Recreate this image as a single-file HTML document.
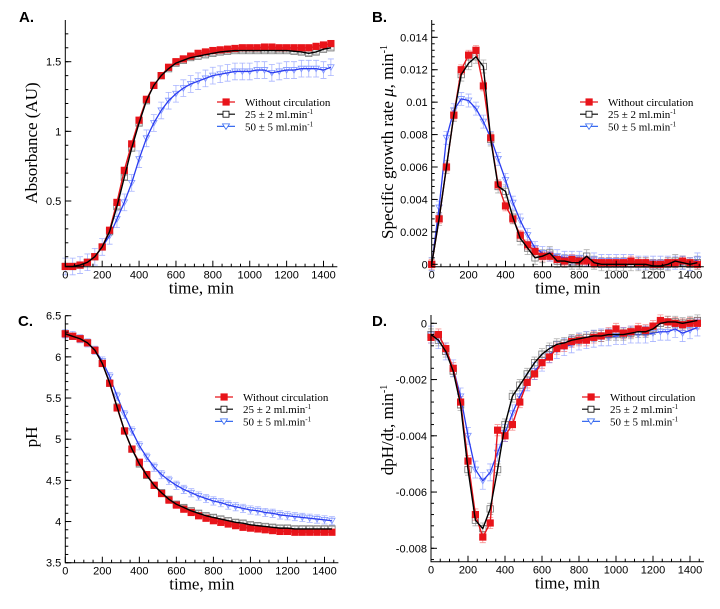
<!DOCTYPE html>
<html><head><meta charset="utf-8"><style>
body{margin:0;background:#fff;width:720px;height:604px;overflow:hidden}
svg text{font-family:"Liberation Sans",sans-serif}
.serif{font-family:"Liberation Serif",serif}
</style></head><body>
<svg id="fig" width="720" height="604" xmlns="http://www.w3.org/2000/svg"></svg>
<script>
const times=[0,40,80,120,160,200,240,280,320,360,400,440,480,520,560,600,640,680,720,760,800,840,880,920,960,1000,1040,1080,1120,1160,1200,1240,1280,1320,1360,1400,1440];
const aRed=[0.03,0.03,0.04,0.06,0.1,0.17,0.29,0.49,0.72,0.91,1.08,1.23,1.33,1.40,1.46,1.50,1.52,1.54,1.56,1.57,1.58,1.585,1.59,1.595,1.60,1.60,1.60,1.605,1.605,1.60,1.60,1.60,1.60,1.60,1.61,1.62,1.63];
const aBlack=[0.03,0.03,0.04,0.06,0.1,0.17,0.28,0.46,0.67,0.88,1.06,1.22,1.33,1.40,1.45,1.49,1.51,1.53,1.54,1.55,1.56,1.57,1.575,1.58,1.58,1.58,1.58,1.58,1.58,1.58,1.58,1.575,1.57,1.56,1.57,1.59,1.60];
const aBlue=[0.03,0.03,0.04,0.06,0.1,0.17,0.25,0.37,0.49,0.63,0.80,0.95,1.06,1.15,1.22,1.27,1.31,1.34,1.36,1.38,1.40,1.41,1.42,1.43,1.43,1.43,1.44,1.44,1.42,1.43,1.44,1.44,1.45,1.45,1.45,1.44,1.46];
const bRed=[0,0.0028,0.006,0.0092,0.012,0.0129,0.0132,0.011,0.0078,0.0049,0.0036,0.0028,0.0018,0.0012,0.0008,0.0005,0.0005,0.0003,0.0002,0.0003,0.0002,0.0002,0.0001,0.0001,0.0001,0.0001,0.0001,0.0002,0.0001,0.0001,0,0,0.0001,0.0001,0.0002,0.0001,0];
const bBlack=[0,0.0028,0.006,0.0092,0.0117,0.0124,0.0128,0.0122,0.0077,0.0048,0.0045,0.0029,0.0016,0.001,0.0004,0.0005,0.0007,0.0002,0.0002,0.0001,0.0001,0.0005,0.0001,0,0,0,0,0,0,0,-0.0001,-0.0001,0,0.0002,0.0001,0,0.0001];
const bBlue=[0,0.0035,0.0078,0.0095,0.0102,0.0101,0.0096,0.0088,0.0078,0.0065,0.0052,0.0038,0.0027,0.0018,0.001,0.0007,0.0006,0.0005,0.0004,0.0004,0.0004,0.0003,0.0003,0.0002,0.0002,0.0002,0.0002,0.0002,0.0001,0.0001,0.0001,0.0001,0.0001,0.0001,0.0001,0,0.0003];
const cRed=[6.28,6.25,6.22,6.17,6.08,5.92,5.68,5.38,5.10,4.88,4.72,4.57,4.44,4.34,4.26,4.20,4.15,4.11,4.07,4.04,4.01,3.99,3.97,3.95,3.93,3.92,3.91,3.90,3.89,3.88,3.88,3.87,3.87,3.87,3.87,3.87,3.87];
const cBlack=[6.28,6.25,6.22,6.17,6.08,5.92,5.68,5.39,5.10,4.88,4.70,4.56,4.44,4.35,4.27,4.21,4.17,4.13,4.10,4.07,4.05,4.03,4.01,3.99,3.98,3.96,3.95,3.94,3.93,3.92,3.92,3.91,3.91,3.91,3.91,3.91,3.91];
const cBlue=[6.28,6.26,6.22,6.17,6.08,5.95,5.76,5.52,5.30,5.10,4.92,4.78,4.66,4.57,4.50,4.44,4.39,4.35,4.31,4.28,4.25,4.23,4.20,4.18,4.16,4.14,4.13,4.11,4.10,4.08,4.07,4.06,4.05,4.04,4.03,4.02,4.01];
const dRed=[-0.0005,-0.0004,-0.0009,-0.0016,-0.0028,-0.0049,-0.0068,-0.0076,-0.0071,-0.0038,-0.004,-0.0036,-0.0028,-0.0021,-0.0018,-0.0014,-0.0012,-0.0009,-0.0008,-0.00065,-0.0006,-0.0006,-0.0005,-0.00045,-0.00035,-0.0002,-0.00035,-0.0003,-0.0002,-0.00025,-0.0001,0.0001,0.00005,0,-0.00005,0,0];
const dBlack=[-0.0004,-0.0006,-0.001,-0.0017,-0.0029,-0.0052,-0.007,-0.0073,-0.0066,-0.0052,-0.0036,-0.0026,-0.0022,-0.0018,-0.0014,-0.0011,-0.0009,-0.00075,-0.0007,-0.0006,-0.00055,-0.0005,-0.00045,-0.00045,-0.0004,-0.0004,-0.0004,-0.00035,-0.0003,-0.0003,-0.0002,0,0.00005,0.00005,0,0.00005,0.0001];
const dBlue=[-0.0004,-0.0006,-0.001,-0.0016,-0.0026,-0.004,-0.0052,-0.0056,-0.0053,-0.0046,-0.0039,-0.0032,-0.0026,-0.0021,-0.0017,-0.0014,-0.0011,-0.00095,-0.00085,-0.00075,-0.00065,-0.0006,-0.00055,-0.0005,-0.0005,-0.00045,-0.00045,-0.0004,-0.0004,-0.0004,-0.00035,-0.0003,-0.0003,-0.0002,-0.00035,-0.00025,-0.00015];
const xTicks=[0,200,400,600,800,1000,1200,1400];
const aTicks=[0.5,1,1.5];
const aTickLabels=["0.5","1","1.5"];
const bTicks=[0,0.002,0.004,0.006,0.008,0.01,0.012,0.014];
const bTickLabels=["0","0.002","0.004","0.006","0.008","0.01","0.012","0.014"];
const cTicks=[3.5,4,4.5,5,5.5,6,6.5];
const cTickLabels=["3.5","4","4.5","5","5.5","6","6.5"];
const dTicks=[0,-0.002,-0.004,-0.006,-0.008];
const dTickLabels=["0","-0.002","-0.004","-0.006","-0.008"];
const aErr=[0.01,0.015,0.06];
const bErr=[0.0003,0.0004,0.0004];
const cErr=[0.02,0.03,0.05];
const dErr=[0.0002,0.0002,0.0003];
const legendLabels=["Without circulation","25 ± 2 ml.min","50 ± 5 ml.min"];

const NS="http://www.w3.org/2000/svg";
const fig=document.getElementById('fig');
function mk(tag,attrs,parent){const e=document.createElementNS(NS,tag);for(const k in attrs)e.setAttribute(k,attrs[k]);(parent||fig).appendChild(e);return e;}

function panel(o){
  const g=mk('g',{});
  
  
  const X=t=>o.x0+(t/1400)*(o.x1400-o.x0);
  const Y=v=>o.py0+(v-o.v0)/(o.v1-o.v0)*(o.py1-o.py0);
  const right=X(1475);
  const cols=["rgba(240,60,60,0.55)","rgba(120,120,120,0.6)","rgba(110,130,255,0.6)"];
  [o.red,o.black,o.blue].forEach((s,si)=>{
    const eb=mk('g',{stroke:cols[si],'stroke-width':0.8,fill:'none'},g);
    
    
    s.forEach((v,i)=>{const x=X(times[i]),e=o.err[si];const y1=Y(v-e),y2=Y(v+e);
      mk('path',{d:`M${x},${y1}V${y2}M${x-3},${y1}H${x+3}M${x-3},${y2}H${x+3}`},eb);});
  });
  const line=(s,col,w)=>{const p=mk('polyline',{points:s.map((v,i)=>X(times[i])+','+Y(v)).join(' '),fill:'none',stroke:col,'stroke-width':w,'stroke-linejoin':'round'},g);return p;};
  o.blue.forEach((v,i)=>{const x=X(times[i]),y=Y(v);
    const t=mk('path',{d:`M${x-3.2},${y-2.5}H${x+3.2}L${x},${y+3}Z`,fill:'none',stroke:'#7f95ff','stroke-width':0.8},g);
    
    });
  const lb=line(o.blue,'#2a3cf0',1.3);
  
  
  o.black.forEach((v,i)=>{const x=X(times[i]),y=Y(v);
    const r=mk('rect',{x:x-3.2,y:y-3.2,width:6.4,height:6.4,fill:'none',stroke:'#777','stroke-width':0.8},g);
    
    });
  o.red.forEach((v,i)=>{const x=X(times[i]),y=Y(v);
    const r=mk('rect',{x:x-3.6,y:y-3.6,width:7.2,height:7.2,fill:'#e8141a'},g);
    
    });
  const lr=line(o.red,'#e8141a',1.4);
  
  
  const lk=line(o.black,'#000',1.4);
  
  
  const ax=mk('g',{stroke:'#000','stroke-width':1,fill:'none'},g);
  
  
  mk('path',{d:`M${o.x0},${o.top}V${o.bot}H${right}`},ax);
  for(let t=0;t<=1450;t+=50){const x=X(t);const major=t%200===0;mk('path',{d:`M${x},${o.bot}V${o.bot-(major?6:3)}`},ax);}
  o.ticks.forEach((v,i)=>{const y=Y(v);mk('path',{d:`M${o.x0},${y}H${o.x0+6}`},ax);
    const tx=mk('text',{x:o.x0-4,y:y+4,'text-anchor':'end','font-size':11},g);tx.textContent=o.tickLabels[i];
    
    });
  const step=(o.ticks[1]-o.ticks[0])/5;
  const lo=Math.min(o.v0,o.v1),hi=Math.max(o.v0,o.v1);
  for(let k=-60;k<=60;k++){const v=o.ticks[0]+k*step;const y=Y(v);if(y<o.top||y>o.bot)continue;mk('path',{d:`M${o.x0},${y}H${o.x0+3}`},ax);}
  xTicks.forEach(t=>{const tx=mk('text',{x:X(t),y:o.bot+12,'text-anchor':'middle','font-size':11},g);tx.textContent=t;
    
    });
  const xt=mk('text',{x:(o.x0+right)/2,y:o.bot+27,'text-anchor':'middle','font-size':17,class:'serif'},g);xt.textContent='time, min';
  
  
  const yt=mk('text',{x:0,y:0,'text-anchor':'middle','font-size':17,class:'serif',transform:`translate(${o.ytx},${o.yty}) rotate(-90)`},g);
  yt.innerHTML=o.ytitle;
  
  
  const pl=mk('text',{x:o.lx,y:o.ly,'font-size':15,'font-weight':'bold'},g);pl.textContent=o.label;
  
  
  const lg=mk('g',{},g);
  
  
  const lcols=['#e8141a','#000','#3a6cf0'];
  legendLabels.forEach((lab,i)=>{const y=o.legY+i*12.2,x=o.legX;
    const ent=mk('g',{},lg);
    
    
    mk('line',{x1:x,y1:y,x2:x+18,y2:y,stroke:lcols[i],'stroke-width':1.2},ent);
    if(i===0)mk('rect',{x:x+5.5,y:y-3.6,width:7.2,height:7.2,fill:'#e8141a'},ent);
    if(i===1)mk('rect',{x:x+6,y:y-3,width:6,height:6,fill:'#fff',stroke:'#000','stroke-width':0.8},ent);
    if(i===2)mk('path',{d:`M${x+5.5},${y-2.5}H${x+12.5}L${x+9},${y+3}Z`,fill:'#fff',stroke:'#3a6cf0','stroke-width':0.8},ent);
    const t=mk('text',{x:x+28,y:y+4,'font-size':11,class:'serif'},ent);
    t.innerHTML=lab+(i>0?'<tspan font-size="7" dy="-4">-1</tspan>':'');});
}

panel({name:'panel-a-absorbance',label:'A.',lx:19,ly:22,x0:65.3,x1400:323.5,top:20,bot:266.7,v0:0.5,v1:1.5,py0:201,py1:61.7,
  red:aRed,black:aBlack,blue:aBlue,err:aErr,ticks:aTicks,tickLabels:aTickLabels,ytitle:'Absorbance (AU)',ytx:37,yty:143,legX:217,legY:102});
panel({name:'panel-b-growth-rate',label:'B.',lx:372,ly:22,x0:431.7,x1400:690,top:20,bot:266.7,v0:0,v1:0.014,py0:264.3,py1:37.3,
  red:bRed,black:bBlack,blue:bBlue,err:bErr,ticks:bTicks,tickLabels:bTickLabels,ytitle:'Specific growth rate <tspan font-style="italic">μ</tspan>, min<tspan font-size="10" dy="-6">-1</tspan>',ytx:393,yty:142,legX:580,legY:102});
panel({name:'panel-c-ph',label:'C.',lx:18,ly:326,x0:65.3,x1400:324.5,top:315.7,bot:562.7,v0:3.5,v1:6.5,py0:562.7,py1:315.7,
  red:cRed,black:cBlack,blue:cBlue,err:cErr,ticks:cTicks,tickLabels:cTickLabels,ytitle:'pH',ytx:37,yty:437,legX:215,legY:397});
panel({name:'panel-d-dph-dt',label:'D.',lx:372,ly:326,x0:431,x1400:690,top:315,bot:561.7,v0:0,v1:-0.008,py0:323.3,py1:548.3,
  red:dRed,black:dBlack,blue:dBlue,err:dErr,ticks:dTicks,tickLabels:dTickLabels,ytitle:'dpH/dt, min<tspan font-size="10" dy="-6">-1</tspan>',ytx:393,yty:430,legX:582,legY:397});
</script>
</body></html>
